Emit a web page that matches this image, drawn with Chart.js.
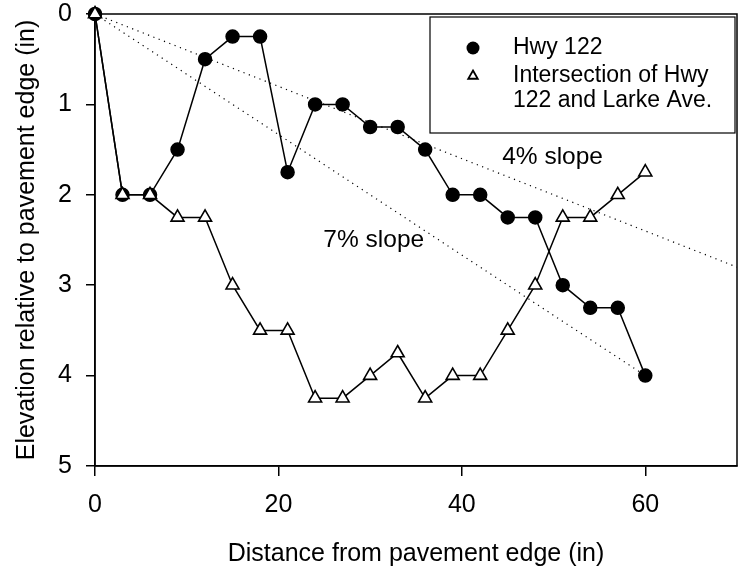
<!DOCTYPE html>
<html>
<head>
<meta charset="utf-8">
<script src="https://cdn.jsdelivr.net/npm/chart.js@4.4.0/dist/chart.umd.min.js"></script>
<style>
  html, body { margin: 0; padding: 0; background: #fff; }
</style>
</head>
<body>
<canvas id="slopeChart" width="741" height="571"></canvas>
<script>
const distance = [0, 3, 6, 9, 12, 15, 18, 21, 24, 27, 30, 33, 36, 39, 42, 45, 48, 51, 54, 57, 60];
const hwy122 = [0, 2, 2, 1.5, 0.5, 0.25, 0.25, 1.75, 1, 1, 1.25, 1.25, 1.5, 2, 2, 2.25, 2.25, 3, 3.25, 3.25, 4];
const intersection = [0, 2, 2, 2.25, 2.25, 3, 3.5, 3.5, 4.25, 4.25, 4, 3.75, 4.25, 4, 4, 3.5, 3, 2.25, 2.25, 2, 1.75];

// reference slope lines (start and end points)
const slope4x = [0, 70];
const slope4y = [0, 2.8];
const slope7x = [0, 60];
const slope7y = [0, 4];

const xTicks = [0, 20, 40, 60];
const yTicks = [0, 1, 2, 3, 4, 5];

const FONT = 'Arial, "Liberation Sans", sans-serif';

function pairs(xs, ys) {
    return xs.map((x, i) => ({ x: x, y: ys[i] }));
}

// frame around the plot, slope labels and the boxed legend
const extras = {
    id: 'extras',
    beforeDatasetsDraw(chart) {
        const ctx = chart.ctx;
        const a = chart.chartArea;
        ctx.save();
        ctx.strokeStyle = '#000';
        ctx.lineWidth = 1.5;
        ctx.strokeRect(a.left, a.top, a.right - a.left, a.bottom - a.top);
        ctx.restore();
    },
    afterDatasetsDraw(chart) {
        const ctx = chart.ctx;
        const xs = chart.scales.x;
        const ys = chart.scales.y;

        ctx.save();
        ctx.fillStyle = '#000';
        ctx.strokeStyle = '#000';
        ctx.font = '24.5px ' + FONT;
        ctx.textBaseline = 'middle';
        ctx.textAlign = 'left';
        ctx.fillText('4% slope', xs.getPixelForValue(44.4), ys.getPixelForValue(1.58));
        ctx.fillText('7% slope', xs.getPixelForValue(24.9), ys.getPixelForValue(2.5));

        // legend
        const bx = 430, by = 17, bw = 305, bh = 116;
        ctx.fillStyle = '#fff';
        ctx.fillRect(bx, by, bw, bh);
        ctx.lineWidth = 1.2;
        ctx.strokeRect(bx, by, bw, bh);

        ctx.fillStyle = '#000';
        ctx.beginPath();
        ctx.arc(473, 48, 6.5, 0, Math.PI * 2);
        ctx.fill();

        ctx.beginPath();
        const r = 5.5;
        ctx.moveTo(473, 76 - r);
        ctx.lineTo(473 + r * Math.sin(2 * Math.PI / 3), 76 + r / 2);
        ctx.lineTo(473 - r * Math.sin(2 * Math.PI / 3), 76 + r / 2);
        ctx.closePath();
        ctx.lineWidth = 1.8;
        ctx.stroke();

        ctx.font = '23px ' + FONT;
        ctx.fillText('Hwy 122', 513, 48);
        ctx.fillText('Intersection of Hwy', 513, 76);
        ctx.fillText('122 and Larke Ave.', 513, 101);
        ctx.restore();
    }
};

const ctx = document.getElementById('slopeChart').getContext('2d');

new Chart(ctx, {
    type: 'scatter',
    data: {
        datasets: [
            {
                label: 'Hwy 122',
                data: pairs(distance, hwy122),
                showLine: true,
                borderColor: '#000',
                borderWidth: 1.5,
                backgroundColor: '#000',
                pointRadius: 6.5,
                pointHoverRadius: 6.5,
                clip: false,
                order: 2
            },
            {
                label: 'Intersection of Hwy 122 and Larke Ave.',
                data: pairs(distance, intersection),
                showLine: true,
                borderColor: '#000',
                borderWidth: 1.5,
                backgroundColor: '#fff',
                pointStyle: 'triangle',
                pointRadius: 7.5,
                pointBorderWidth: 1.6,
                clip: false,
                order: 1
            },
            {
                label: '4% slope',
                data: pairs(slope4x, slope4y),
                showLine: true,
                borderColor: '#000',
                borderWidth: 1.2,
                borderDash: [1.2, 4.5],
                pointRadius: 0,
                order: 3
            },
            {
                label: '7% slope',
                data: pairs(slope7x, slope7y),
                showLine: true,
                borderColor: '#000',
                borderWidth: 1.2,
                borderDash: [1.2, 4.5],
                pointRadius: 0,
                order: 3
            }
        ]
    },
    options: {
        responsive: false,
        animation: false,
        devicePixelRatio: 1,
        layout: { autoPadding: false, padding: { top: 14, right: 4, left: 0, bottom: 0 } },
        plugins: {
            legend: { display: false },
            tooltip: { enabled: false }
        },
        scales: {
            x: {
                type: 'linear',
                min: 0,
                max: 70,
                afterBuildTicks: s => { s.ticks = xTicks.map(v => ({ value: v })); },
                afterFit: s => {
                    s.height = 105;
                    s.paddingLeft = 0;
                    s.paddingRight = 0;
                },
                grid: { drawOnChartArea: false, tickLength: 10, color: '#000', lineWidth: 1.5 },
                border: { color: '#000', width: 1.5 },
                ticks: { color: '#000', font: { family: FONT, size: 25 }, padding: 14, maxRotation: 0 },
                title: {
                    display: true,
                    text: 'Distance from pavement edge (in)',
                    color: '#000',
                    font: { family: FONT, size: 25 },
                    padding: { top: 2, bottom: 2 }
                }
            },
            y: {
                type: 'linear',
                reverse: true,
                min: 0,
                max: 5,
                afterBuildTicks: s => { s.ticks = yTicks.map(v => ({ value: v })); },
                afterFit: s => {
                    s.width = 95;
                    s.paddingTop = 0;
                    s.paddingBottom = 0;
                },
                grid: { drawOnChartArea: false, tickLength: 9, color: '#000', lineWidth: 1.5 },
                border: { color: '#000', width: 1.5 },
                ticks: { color: '#000', font: { family: FONT, size: 25 }, padding: 14 },
                title: {
                    display: true,
                    text: 'Elevation relative to pavement edge (in)',
                    color: '#000',
                    font: { family: FONT, size: 25 },
                    padding: { top: 12, bottom: 12 }
                }
            }
        }
    },
    plugins: [extras]
});
</script>
</body>
</html>
